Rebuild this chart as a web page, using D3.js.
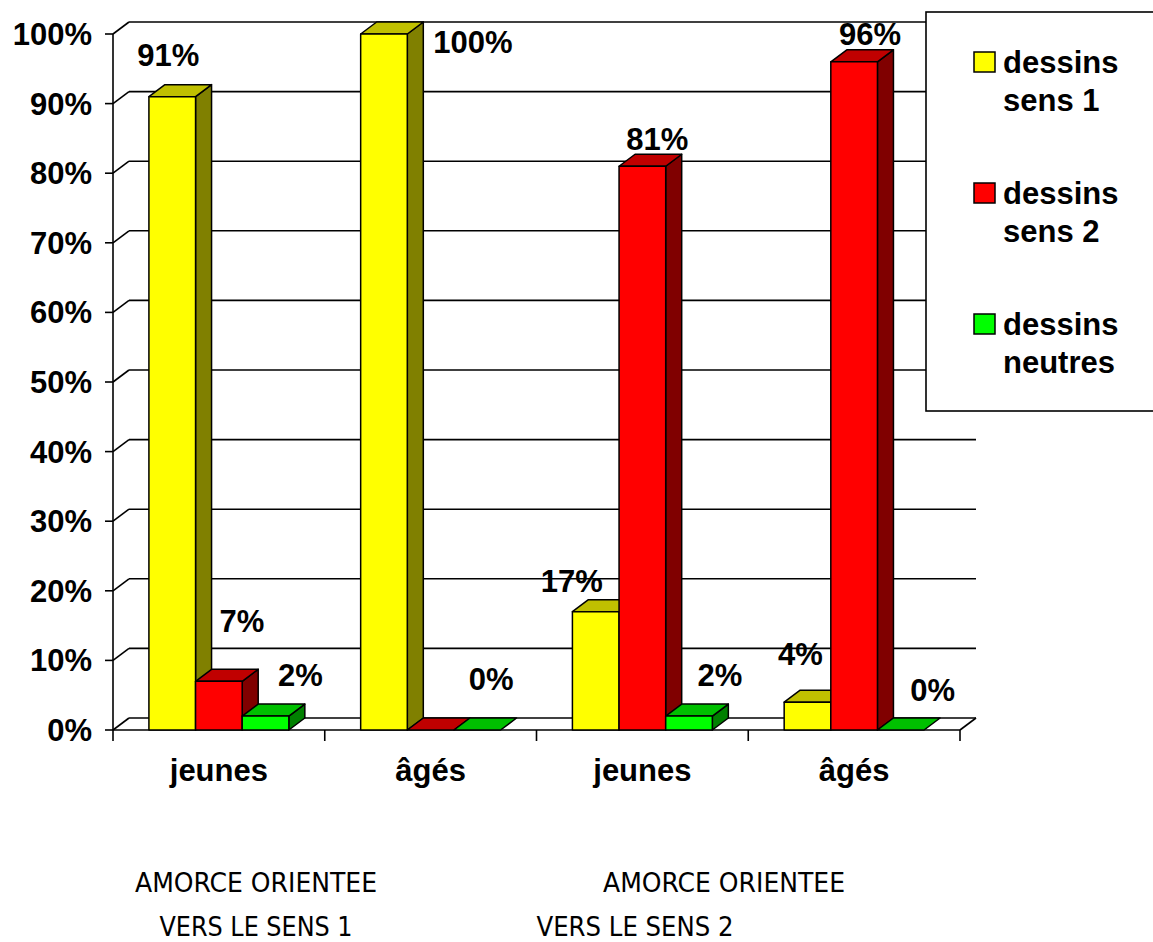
<!DOCTYPE html>
<html>
<head>
<meta charset="utf-8">
<script src="https://cdn.jsdelivr.net/npm/d3@7"></script>
<style>
  body { margin: 0; background: #fff; }
  text { font-family: "Liberation Sans", Arial, sans-serif; }
</style>
</head>
<body>
<div id="chart"></div>
<script>
// categories (x axis) and series
var groups = ["jeunes 1", "âgés 1", "jeunes 2", "âgés 2"];
var groupLabels = ["jeunes", "âgés", "jeunes", "âgés"];
var seriesNames = ["dessins sens 1", "dessins sens 2", "dessins neutres"];
var legendLines = [["dessins", "sens 1"], ["dessins", "sens 2"], ["dessins", "neutres"]];

// values in % per series, one entry per group
var sens1 = [91, 100, 17, 4];
var sens2 = [7, 0, 81, 96];
var neutres = [2, 0, 2, 0];

var yTicks = [0, 10, 20, 30, 40, 50, 60, 70, 80, 90, 100];

// label nudges (Excel placed them by hand, more or less) [dx, dy] from bar front top centre
var labelNudge = [
  [[-4, -31], [89, 19], [-24, -20], [-7, -37]],
  [[23, -49], null, [15, -16], [16, -17]],
  [[35, -30], [14, -40], [31, -30], [32, -29]]
];

var colors = [
  {front: "#ffff00", top: "#c0c000", side: "#808000"},
  {front: "#ff0000", top: "#c00000", side: "#800000"},
  {front: "#00ff00", top: "#00c000", side: "#008000"}
];

var W = 1153, H = 942;
var plotLeft = 113, plotRight = 960, plotBottom = 730, plotTop = 34;
var depthX = 16, depthY = -12;
var fontSize = "31px";

var svg = d3.select("#chart").append("svg")
    .attr("width", W)
    .attr("height", H)
    .style("background", "#fff");

var x0 = d3.scaleBand().domain(groups).range([plotLeft, plotRight]).padding(0);
var x1 = d3.scaleBand().domain(seriesNames).range([0, x0.bandwidth()])
    .paddingInner(0).paddingOuter(0.77);
var y = d3.scaleLinear().domain([0, 100]).range([plotBottom, plotTop]);

var values = [sens1, sens2, neutres];

// back wall gridlines + side wall diagonals
var grid = svg.append("g").attr("stroke", "#000").attr("stroke-width", 1.6).attr("fill", "none");
yTicks.forEach(function(t) {
  grid.append("line")
      .attr("x1", plotLeft + depthX).attr("x2", plotRight + depthX)
      .attr("y1", y(t) + depthY).attr("y2", y(t) + depthY);
  grid.append("line")
      .attr("x1", plotLeft).attr("x2", plotLeft + depthX)
      .attr("y1", y(t)).attr("y2", y(t) + depthY);
  // tick
  grid.append("line")
      .attr("x1", plotLeft - 8).attr("x2", plotLeft)
      .attr("y1", y(t)).attr("y2", y(t));
});
// front y axis line
grid.append("line")
    .attr("x1", plotLeft).attr("x2", plotLeft)
    .attr("y1", y(0)).attr("y2", y(100));
// floor front edge and right diagonal
grid.append("line")
    .attr("x1", plotLeft).attr("x2", plotRight)
    .attr("y1", y(0)).attr("y2", y(0));
grid.append("line")
    .attr("x1", plotRight).attr("x2", plotRight + depthX)
    .attr("y1", y(0)).attr("y2", y(0) + depthY);
// x ticks at group boundaries
groups.forEach(function(g) {
  grid.append("line")
      .attr("x1", x0(g)).attr("x2", x0(g))
      .attr("y1", y(0)).attr("y2", y(0) + 11);
});
grid.append("line")
    .attr("x1", plotRight).attr("x2", plotRight)
    .attr("y1", y(0)).attr("y2", y(0) + 11);

// y tick labels
svg.append("g").selectAll("text")
    .data(yTicks)
  .enter().append("text")
    .attr("x", plotLeft - 21)
    .attr("y", function(d) { return y(d) + 11; })
    .attr("text-anchor", "end")
    .style("font-size", fontSize)
    .style("font-weight", "bold")
    .text(function(d) { return d + "%"; });

// bars, drawn left to right so fronts cover the previous side faces
var bars = svg.append("g").attr("stroke", "#000").attr("stroke-width", 1.5).attr("stroke-linejoin", "round");
groups.forEach(function(g, gi) {
  seriesNames.forEach(function(s, si) {
    var v = values[si][gi];
    var bx = x0(g) + x1(s), bw = x1.bandwidth();
    var yt = y(v), yb = y(0);
    var c = colors[si];
    // side face
    if (v > 0) {
      bars.append("polygon")
          .attr("points", [[bx + bw, yt], [bx + bw + depthX, yt + depthY],
                           [bx + bw + depthX, yb + depthY], [bx + bw, yb]].join(" "))
          .attr("fill", c.side);
    }
    // top face
    bars.append("polygon")
        .attr("points", [[bx, yt], [bx + depthX, yt + depthY],
                         [bx + bw + depthX, yt + depthY], [bx + bw, yt]].join(" "))
        .attr("fill", c.top);
    // front face
    if (v > 0) {
      bars.append("rect")
          .attr("x", bx).attr("y", yt)
          .attr("width", bw).attr("height", yb - yt)
          .attr("fill", c.front);
    }
  });
});

// value labels
var lab = svg.append("g")
    .style("font-size", fontSize)
    .style("font-weight", "bold")
    .attr("text-anchor", "middle");
seriesNames.forEach(function(s, si) {
  groups.forEach(function(g, gi) {
    var n = labelNudge[si][gi];
    if (!n) return;
    var v = values[si][gi];
    lab.append("text")
        .attr("x", x0(g) + x1(s) + x1.bandwidth() / 2 + n[0])
        .attr("y", y(v) + n[1])
        .text(v + "%");
  });
});

// x category labels
svg.append("g").selectAll("text")
    .data(groups)
  .enter().append("text")
    .attr("x", function(d) { return x0(d) + x0.bandwidth() / 2; })
    .attr("y", y(0) + 51)
    .attr("text-anchor", "middle")
    .style("font-size", fontSize)
    .style("font-weight", "bold")
    .text(function(d, i) { return groupLabels[i]; });

// legend
var legend = svg.append("g");
legend.append("rect")
    .attr("x", 926).attr("y", 12)
    .attr("width", 240).attr("height", 399)
    .attr("fill", "#fff")
    .attr("stroke", "#000")
    .attr("stroke-width", 1.6);
legendLines.forEach(function(lines, i) {
  var ly = 52 + i * 131;
  legend.append("rect")
      .attr("x", 974).attr("y", ly)
      .attr("width", 21).attr("height", 20)
      .attr("fill", colors[i].front)
      .attr("stroke", "#000")
      .attr("stroke-width", 1.5);
  lines.forEach(function(t, j) {
    legend.append("text")
        .attr("x", 1003)
        .attr("y", ly + 21 + j * 38)
        .style("font-size", fontSize)
        .style("font-weight", "bold")
        .text(t);
  });
});

// captions under the chart
var captions = [
  {text: "AMORCE ORIENTEE", cx: 256, row: 0, len: 242},
  {text: "VERS LE SENS 1", cx: 256, row: 1, len: 193},
  {text: "AMORCE ORIENTEE", cx: 724, row: 0, len: 242},
  {text: "VERS LE SENS 2", cx: 635, row: 1, len: 197}
];
svg.append("g").selectAll("text")
    .data(captions)
  .enter().append("text")
    .attr("x", function(d) { return d.cx - d.len / 2; })
    .attr("y", function(d) { return 892 + d.row * 44; })
    .attr("textLength", function(d) { return d.len; })
    .attr("lengthAdjust", "spacingAndGlyphs")
    .style("font-family", "'DejaVu Sans Condensed', 'DejaVu Sans', sans-serif")
    .style("font-size", "26px")
    .text(function(d) { return d.text; });
</script>
</body>
</html>
